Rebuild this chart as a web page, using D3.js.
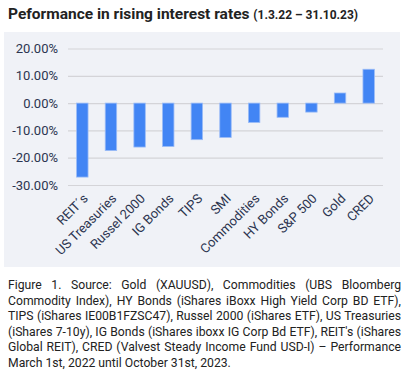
<!DOCTYPE html>
<html><head><meta charset="utf-8">
<script src="https://cdn.jsdelivr.net/npm/d3@7"></script>
<style>
body{margin:0;background:#fff;font-family:Roboto,"Noto Sans",sans-serif;}
#cap{position:absolute;left:8px;top:278px;width:393px;font-size:12.2px;line-height:15.6px;color:#222;text-align:justify;}
</style></head><body>
<svg id="c" width="411" height="270" style="position:absolute;left:0;top:0"></svg>
<div id="cap">Figure 1. Source: Gold (XAUUSD), Commodities (UBS Bloomberg Commodity Index), HY Bonds (iShares iBoxx High Yield Corp BD ETF), TIPS (iShares IE00B1FZSC47), Russel 2000 (iShares ETF), US Treasuries (iShares 7-10y), IG Bonds (iShares iboxx IG Corp Bd ETF), REIT's (iShares Global REIT), CRED (Valvest Steady Income Fund USD-I) – Performance March 1st, 2022 until October 31st, 2023.</div>
<script>
const categories = ["REIT´s","US Treasuries","Russel 2000","IG Bonds","TIPS","SMI","Commodities","HY Bonds","S&P 500","Gold","CRED"];
const values = [-27.1,-17.4,-16.1,-15.9,-13.4,-12.6,-7.1,-5.2,-3.3,3.7,12.4];
const yTicks = [20,10,0,-10,-20,-30];

const svg = d3.select("#c");
svg.append("rect").attr("x",4).attr("y",32).attr("width",396).attr("height",235).attr("fill","#f0f2f7");

const title = svg.append("text").attr("x",8).attr("y",19).attr("fill","#222").attr("font-weight","bold");
title.append("tspan").attr("font-size","15.5px").text("Peformance in rising interest rates ");
title.append("tspan").attr("font-size","12px").text("(1.3.22 – 31.10.23)");

const x = d3.scaleBand().domain(categories).range([68,383]).paddingInner(0.6).paddingOuter(0.3);
const y = d3.scaleLinear().domain([-30,20]).range([185,48.5]);

const yAxis = d3.axisLeft(y).tickValues(yTicks).tickSize(-315).tickFormat(d=>d.toFixed(2)+"%");
const gy = svg.append("g").attr("transform","translate(68,0)").call(yAxis);
gy.select(".domain").remove();
gy.selectAll(".tick line").attr("stroke","#d4d4d8").attr("stroke-width",1.2);
gy.selectAll(".tick text").attr("x",-10).attr("fill","#2c3550").attr("font-size","13px").attr("font-family","Roboto");

svg.append("g").selectAll("rect").data(values).join("rect")
  .attr("x",(d,i)=>x(categories[i]))
  .attr("width",x.bandwidth())
  .attr("y",d=>y(Math.max(0,d)))
  .attr("height",d=>Math.abs(y(d)-y(0)))
  .attr("fill","#4285f4").attr("stroke","#9bbcf7").attr("stroke-width",0.8);

const xAxis = d3.axisBottom(x).tickSize(0);
const gx = svg.append("g").attr("transform","translate(0,193)").call(xAxis);
gx.select(".domain").remove();
gx.selectAll(".tick text").attr("text-anchor","end").attr("transform","rotate(-45)")
  .attr("dx","0").attr("dy","9").attr("y",0)
  .attr("fill","#2c3550").attr("font-size","13px").attr("font-family","Roboto");
</script></body></html>
